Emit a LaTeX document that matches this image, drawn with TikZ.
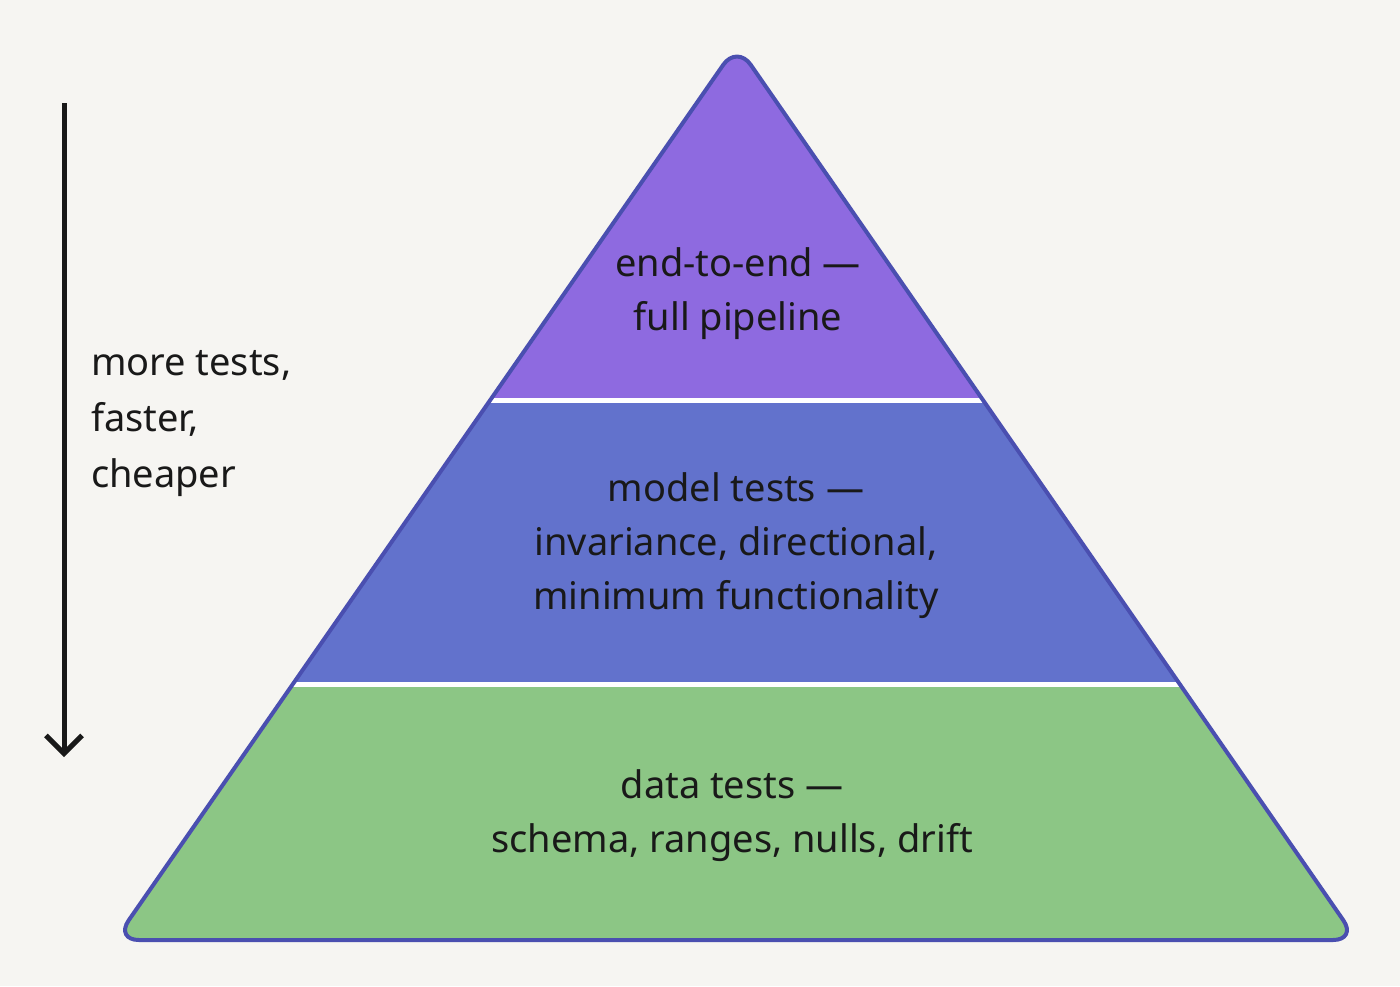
\documentclass[tikz,border=0pt]{standalone}
\usepackage{fontspec}
\setmainfont{Noto Sans}
\usetikzlibrary{arrows.meta,positioning}
\definecolor{bgcol}{HTML}{F6F5F2}
\definecolor{topcol}{HTML}{8E6AE0}
\definecolor{midcol}{HTML}{6272CC}
\definecolor{botcol}{HTML}{8CC685}
\definecolor{edgecol}{HTML}{4A4FB0}
\begin{document}
\begin{tikzpicture}[x=0.5pt, y=-0.5pt,
  label/.style={font=\fontsize{19}{27}\selectfont, align=center, text=black!90},
  side/.style={font=\fontsize{19}{28}\selectfont, align=left, anchor=west, text=black!90},
  divider/.style={white, line width=2.5pt}]

\fill[bgcol] (0,0) rectangle (1400,986);

% pyramid bands
\begin{scope}
  \clip[rounded corners=12pt] (737,45) -- (1357,940) -- (115,940) -- cycle;
  \fill[topcol] (0,0) rectangle (1400,400);
  \fill[midcol] (0,400) rectangle (1400,684);
  \fill[botcol] (0,684) rectangle (1400,986);
\end{scope}
\draw[divider] (490,400) -- (983,400);
\draw[divider] (293,684) -- (1180,684);
\draw[edgecol, line width=2pt, rounded corners=12pt, line join=round] (737,45) -- (1357,940) -- (115,940) -- cycle;

% labels
\node[label] (top) at (738,294) {end-to-end —\\full pipeline};
\node[label] (mid) at (736,546) {model tests —\\invariance, directional,\\minimum functionality};
\node[label] (bot) at (732,816) {data tests —\\schema, ranges, nulls, drift};

% side arrow
\coordinate (astart) at (64,103);
\coordinate (aend) at (64,757);
\draw[-{Straight Barb[length=9pt, width=18pt, line width=2.5pt]}, line width=2.5pt, black!90] (astart) -- (aend);
\node[side] (note) at (84,424) {more tests,\\faster,\\cheaper};
\end{tikzpicture}
\end{document}
